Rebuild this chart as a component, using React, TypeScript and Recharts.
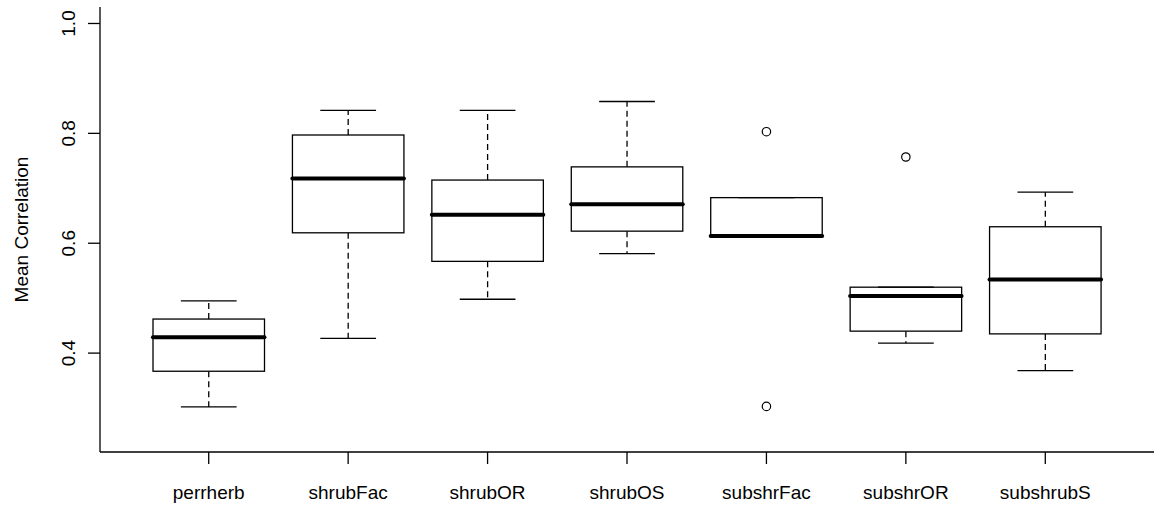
import React from 'react';
import { ComposedChart, Bar, Scatter, XAxis, YAxis } from 'recharts';

const categories = ['perrherb', 'shrubFac', 'shrubOR', 'shrubOS', 'subshrFac', 'subshrOR', 'subshrubS'];
const whiskerLow = [0.302, 0.427, 0.498, 0.581, 0.613, 0.418, 0.368];
const quartile1 = [0.367, 0.619, 0.567, 0.622, 0.613, 0.440, 0.435];
const medians = [0.429, 0.718, 0.652, 0.671, 0.613, 0.504, 0.534];
const quartile3 = [0.462, 0.797, 0.715, 0.739, 0.683, 0.520, 0.630];
const whiskerHigh = [0.495, 0.842, 0.842, 0.858, 0.683, 0.520, 0.693];
const outlierHigh: (number | null)[] = [null, null, null, null, 0.803, 0.757, null];
const outlierLow: (number | null)[] = [null, null, null, null, 0.303, null, null];
const yTicks = [0.4, 0.6, 0.8, 1.0];

const data = categories.map((name, i) => ({
  name,
  base: whiskerLow[i],
  lowW: quartile1[i] - whiskerLow[i],
  box: quartile3[i] - quartile1[i],
  upW: whiskerHigh[i] - quartile3[i],
  med: medians[i],
  outHi: outlierHigh[i],
  outLo: outlierLow[i],
}));

const FONT = '"Liberation Sans", Arial, Helvetica, sans-serif';
const FS = 19;
const LW = 1.3;
const BOX_W = 111.5;

const LowerWhisker = (p: any) => {
  const { x, y, width, height } = p;
  if (x == null || y == null) return null;
  const cx = x + width / 2;
  const yb = y + height;
  return (
    <g>
      {height > 0 && (
        <line x1={cx} x2={cx} y1={y} y2={yb} stroke="#000" strokeWidth={LW} strokeDasharray="6 4" />
      )}
      <line x1={cx - width / 4} x2={cx + width / 4} y1={yb} y2={yb} stroke="#000" strokeWidth={LW} />
    </g>
  );
};

const UpperWhisker = (p: any) => {
  const { x, y, width, height } = p;
  if (x == null || y == null) return null;
  const cx = x + width / 2;
  const yb = y + height;
  return (
    <g>
      {height > 0 && (
        <line x1={cx} x2={cx} y1={yb} y2={y} stroke="#000" strokeWidth={LW} strokeDasharray="6 4" />
      )}
      <line x1={cx - width / 4} x2={cx + width / 4} y1={y} y2={y} stroke="#000" strokeWidth={LW} />
    </g>
  );
};

const BoxShape = (p: any) => {
  const { x, y, width, height } = p;
  if (x == null || y == null) return null;
  return <rect x={x} y={y} width={width} height={height} fill="#fff" stroke="#000" strokeWidth={LW} />;
};

const MedianShape = (p: any) => {
  const { cx, cy } = p;
  if (cx == null || cy == null) return null;
  return (
    <line x1={cx - BOX_W / 2} x2={cx + BOX_W / 2} y1={cy} y2={cy} stroke="#000" strokeWidth={4} strokeLinecap="round" />
  );
};

const OutlierShape = (p: any) => {
  const { cx, cy } = p;
  if (cx == null || cy == null) return null;
  return <circle cx={cx} cy={cy} r={4.2} fill="none" stroke="#000" strokeWidth={1.2} />;
};

const XTick = (p: any) => {
  const { x, payload } = p;
  return (
    <text x={x} y={499} textAnchor="middle" fontFamily={FONT} fontSize={FS} fill="#000">
      {payload.value}
    </text>
  );
};

const YTick = (p: any) => {
  const { y, payload } = p;
  const bx = 75;
  return (
    <text x={bx} y={y} textAnchor="middle" transform={`rotate(-90 ${bx} ${y})`} fontFamily={FONT} fontSize={FS} fill="#000">
      {Number(payload.value).toFixed(1)}
    </text>
  );
};

const YLabel = () => (
  <text x={28} y={229.5} textAnchor="middle" transform="rotate(-90 28 229.5)" fontFamily={FONT} fontSize={FS} fill="#000">
    Mean Correlation
  </text>
);

export default function App() {
  return (
    <div style={{ position: 'absolute', left: 0, top: 0, background: '#fff' }}>
      <ComposedChart
        width={1163}
        height={514}
        data={data}
        margin={{ top: 7, right: 9, bottom: 0, left: 0 }}
        barSize={BOX_W}
      >
        <XAxis
          dataKey="name"
          type="category"
          height={62}
          padding={{ left: 39, right: 39 }}
          tickSize={12}
          tickLine={{ stroke: '#000', strokeWidth: LW }}
          axisLine={{ stroke: '#000', strokeWidth: LW }}
          tick={<XTick />}
          interval={0}
        />
        <XAxis
          xAxisId="top"
          dataKey="name"
          orientation="top"
          height={0}
          tick={false}
          tickLine={false}
          axisLine={{ stroke: '#000', strokeWidth: LW }}
        />
        <YAxis
          type="number"
          domain={[0.22, 1.03]}
          allowDataOverflow
          ticks={yTicks}
          width={100}
          tickSize={12}
          tickMargin={0}
          tickLine={{ stroke: '#000', strokeWidth: LW }}
          axisLine={{ stroke: '#000', strokeWidth: LW }}
          tick={<YTick />}
          label={<YLabel />}
        />
        <YAxis
          yAxisId="right"
          orientation="right"
          width={0}
          domain={[0.22, 1.03]}
          tick={false}
          tickLine={false}
          axisLine={{ stroke: '#000', strokeWidth: LW }}
        />
        <Bar dataKey="base" stackId="b" fill="none" shape={() => null} isAnimationActive={false} />
        <Bar dataKey="lowW" stackId="b" shape={<LowerWhisker />} isAnimationActive={false} />
        <Bar dataKey="box" stackId="b" shape={<BoxShape />} isAnimationActive={false} />
        <Bar dataKey="upW" stackId="b" shape={<UpperWhisker />} isAnimationActive={false} />
        <Scatter dataKey="med" shape={<MedianShape />} isAnimationActive={false} />
        <Scatter dataKey="outHi" shape={<OutlierShape />} isAnimationActive={false} />
        <Scatter dataKey="outLo" shape={<OutlierShape />} isAnimationActive={false} />
      </ComposedChart>
    </div>
  );
}
